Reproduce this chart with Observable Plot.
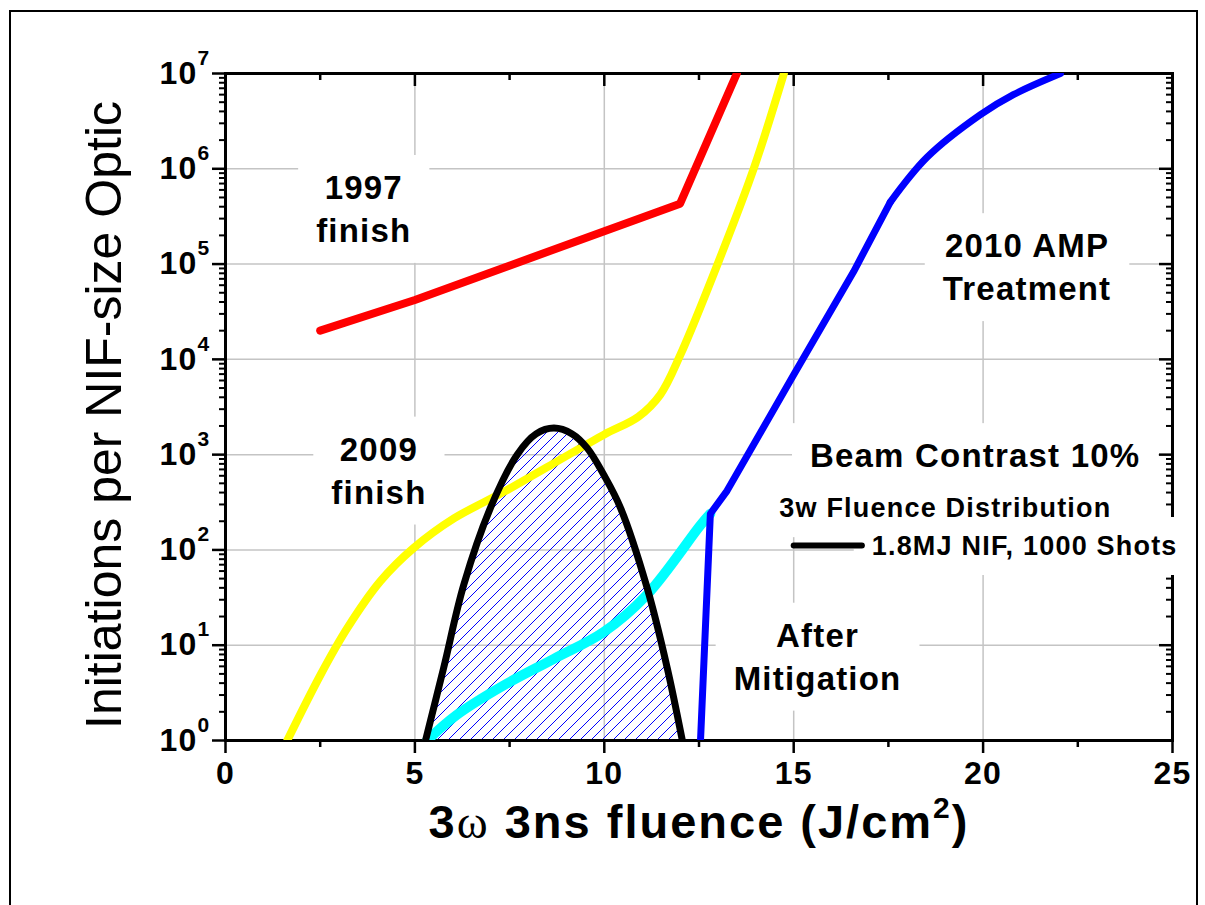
<!DOCTYPE html>
<html><head><meta charset="utf-8">
<script src="https://cdn.jsdelivr.net/npm/d3@7"></script>
<script src="https://cdn.jsdelivr.net/npm/@observablehq/plot@0.6"></script>
<style>
body{margin:0;background:#fff;}
#wrap{position:relative;width:1205px;height:905px;overflow:hidden;background:#fff;}
#border{position:absolute;left:9px;top:10px;width:1189px;height:1000px;border:2px solid #000;box-sizing:border-box;pointer-events:none;}
svg text{letter-spacing:1.2px;}
</style></head><body><div id="wrap"><div id="border"></div></div>
<script>
// ---- axis ticks ----
const xTicks = [0, 5, 10, 15, 20, 25];
const xMinor = [2.5, 7.5, 12.5, 17.5, 22.5];
const xGrid = [5, 10, 15, 20];
const yDecades = [1, 10, 100, 1e3, 1e4, 1e5, 1e6, 1e7];
const yGrid = [10, 100, 1e3, 1e4, 1e5, 1e6];
const yMinorMult = [2, 3, 4, 5, 6, 7, 8, 9];
const yMinor = yDecades.slice(0, -1).flatMap(d => yMinorMult.map(m => m * d));

// ---- series ----
const red1997X = [2.5, 5.0, 12.0, 13.5];
const red1997Y = [2.0e4, 4.2e4, 4.3e5, 1e7];

const yel2009X = [1.63, 2.51, 3.21, 4.09, 4.97, 6.03, 7.35, 8.67, 9.99, 10.9, 11.48, 12.01, 13.02, 13.95, 14.74];
const yel2009Y = [1, 4.9, 15, 47, 105, 214, 407, 813, 1620, 2500, 4270, 11200, 107000, 1.02e6, 1e7];

const cyanX = [5.32, 6.11, 7.35, 8.67, 9.99, 11.13, 12.54, 12.8];
const cyanY = [1, 1.86, 3.8, 7.2, 13.8, 34, 182, 240];

const blueLowX = [12.54, 12.8, 13.24, 15.0, 16.58, 17.55];
const blueLowY = [1, 240, 417, 6900, 83000, 447000];
const blueHighX = [17.55, 18.52, 19.93, 20.8, 22.04];
const blueHighY = [447000, 1.32e6, 3.7e6, 6.0e6, 1e7];

const distX = [5.28, 5.76, 6.29, 7.0, 7.7, 8.2, 8.67, 9.15, 9.55, 10.0, 10.43, 11.13, 11.66, 12.06];
const distY = [1, 5.8, 43, 280, 1000, 1650, 1900, 1650, 1170, 600, 275, 40, 5.8, 1];

// ---- annotations ----
const noteText = ["1997\nfinish", "2009\nfinish", "2010 AMP\nTreatment", "Beam Contrast 10%", "After\nMitigation"];
const noteX = [3.65, 4.05, 21.16, 19.79, 15.63];
const noteY = [4.0e5, 718, 9.8e4, 1030, 8.0];
const legendText = ["3w Fluence Distribution", "1.8MJ NIF, 1000 Shots"];
const legendX = [14.62, 17.06];
const legendY = [272, 109];
const swatchX = [15.0, 16.8];
const swatchY = [111, 111];
const xTitle = "3ω 3ns fluence (J/cm2)";
const yTitle = "Initiations per NIF-size Optic";

const rows = (xs, ys) => xs.map((x, i) => ({x, y: ys[i]}));
const red = rows(red1997X, red1997Y);
const yel = rows(yel2009X, yel2009Y);
const cyan = rows(cyanX, cyanY);
const blueLow = rows(blueLowX, blueLowY);
const blueHigh = rows(blueHighX, blueHighY);
const dist = rows(distX, distY);
const notes = noteText.map((t, i) => ({text: t, x: noteX[i], y: noteY[i]}));
const legend = legendText.map((t, i) => ({text: t, x: legendX[i], y: legendY[i]}));
const swatch = rows(swatchX, swatchY);

const W = 1205, H = 905, mL = 225, mR = 33, mT = 73, mB = 165;
const innerW = W - mL - mR, innerH = H - mT - mB;
const grid = {stroke: "#c4c4c4", strokeOpacity: 1, strokeWidth: 1.5};

const plot = Plot.plot({
  width: W, height: H,
  marginLeft: mL, marginRight: mR, marginTop: mT, marginBottom: mB,
  style: {fontFamily: "'Liberation Sans', Arial, sans-serif", fontWeight: "bold", background: "white", overflow: "visible", color: "black"},
  x: {domain: [0, 25], label: null},
  y: {type: "log", domain: [1, 1e7], label: null},
  marks: [
    Plot.gridX(xGrid, grid),
    Plot.gridY(yGrid, grid),
    Plot.areaY(dist, {x: "x", y1: 1, y2: "y", fill: "url(#hatch)", curve: "catmull-rom", clip: true}),
    // inward ticks top & right
    Plot.tickX(xTicks, {x: d => d, insetBottom: innerH - 13, stroke: "black", strokeWidth: 2.5}),
    Plot.tickX(xMinor, {x: d => d, insetBottom: innerH - 7, stroke: "black", strokeWidth: 2.5}),
    Plot.tickY(yDecades, {y: d => d, insetLeft: innerW - 13, stroke: "black", strokeWidth: 2.5}),
    Plot.tickY(yMinor, {y: d => d, insetLeft: innerW - 6, stroke: "black", strokeWidth: 2}),
    // outward ticks bottom & left
    Plot.axisX(xTicks, {anchor: "bottom", label: null, tickSize: 13, tickPadding: 8, strokeWidth: 2.5, fontSize: 32, fontWeight: "bold", tickFormat: d => String(d)}),
    Plot.axisX(xMinor, {anchor: "bottom", label: null, tickSize: 7, strokeWidth: 2.5, tickFormat: () => ""}),
    Plot.axisY(yDecades, {anchor: "left", label: null, tickSize: 13, tickPadding: 2, strokeWidth: 2.5, fontSize: 32, fontWeight: "bold", tickFormat: d => "10^" + Math.round(Math.log10(d))}),
    Plot.axisY(yMinor, {anchor: "left", label: null, tickSize: 6, strokeWidth: 2, tickFormat: () => ""}),
    Plot.frame({stroke: "black", strokeWidth: 3}),
    Plot.text(notes, {x: "x", y: "y", text: "text", fontSize: 33, lineHeight: 1.3, textAnchor: "middle", lineAnchor: "middle", fill: "black"}),
    Plot.text(legend, {x: "x", y: "y", text: "text", fontSize: 27, textAnchor: "start", lineAnchor: "middle", fill: "black"}),
    // curves above label boxes
    Plot.line(red, {x: "x", y: "y", stroke: "#ff0000", strokeWidth: 8, clip: true}),
    Plot.line(yel, {x: "x", y: "y", stroke: "#ffff00", strokeWidth: 8, curve: "catmull-rom", clip: true}),
    Plot.line(cyan, {x: "x", y: "y", stroke: "#00ffff", strokeWidth: 10, curve: "catmull-rom", clip: true}),
    Plot.line(blueLow, {x: "x", y: "y", stroke: "#0000ff", strokeWidth: 7, clip: true}),
    Plot.line(blueHigh, {x: "x", y: "y", stroke: "#0000ff", strokeWidth: 7, curve: "catmull-rom", clip: true}),
    Plot.line(dist, {x: "x", y: "y", stroke: "black", strokeWidth: 7, curve: "catmull-rom", clip: true}),
    Plot.line(swatch, {x: "x", y: "y", stroke: "black", strokeWidth: 6}),
    Plot.text([xTitle], {text: d => d, frameAnchor: "bottom", dy: 82, fontSize: 47, lineAnchor: "middle", textAnchor: "middle", fill: "black"}),
    Plot.text([yTitle], {text: d => d, frameAnchor: "left", dx: -121, dy: 8, rotate: -90, fontSize: 50, fontWeight: "normal", lineAnchor: "middle", textAnchor: "middle", fill: "black"})
  ]
});

const wrap = document.getElementById("wrap");
wrap.insertBefore(plot, wrap.firstChild);
const svg = d3.select(plot);

// hatch pattern
const defs = svg.insert("defs", ":first-child");
defs.append("pattern").attr("id", "hatch").attr("patternUnits", "userSpaceOnUse")
  .attr("width", 11).attr("height", 11)
  .append("path").attr("d", "M-2,2 L2,-2 M0,11 L11,0 M9,13 L13,9")
  .attr("stroke", "#0000ff").attr("stroke-width", 1).attr("fill", "none");

// superscripts & special glyphs
const boxTexts = new Set([...noteText, ...legendText].map(t => t.replace(/\n/g, "")));
const boxTargets = [];
svg.selectAll("text").each(function () {
  const t = this.textContent;
  const m = /^10\^(\d)$/.exec(t);
  const s = d3.select(this);
  if (m) {
    s.text("10");
    s.append("tspan").attr("dy", -19).attr("font-size", 21).text(m[1]);
  } else if (t === xTitle) {
    s.text(null).style("letter-spacing", "2px");
    s.append("tspan").text("3");
    s.append("tspan").attr("font-family", "'Liberation Serif', 'DejaVu Serif', serif").attr("font-weight", "normal").text("ω");
    s.append("tspan").text(" 3ns fluence (J/cm");
    s.append("tspan").attr("dy", -20).attr("font-size", 30).text("2");
    s.append("tspan").attr("dy", 20).text(")");
  } else if (t === yTitle) {
    s.style("letter-spacing", "0px");
  } else if (boxTexts.has(t)) {
    boxTargets.push(this);
  }
});
// white label boxes behind annotation texts
const firstTextGroup = boxTargets.length ? boxTargets[0].parentNode : null;
boxTargets.forEach(el => {
  const b = el.getBBox();
  const g = el.parentNode;
  const bg = document.createElementNS("http://www.w3.org/2000/svg", "g");
  if (g.getAttribute("transform")) bg.setAttribute("transform", g.getAttribute("transform"));
  firstTextGroup.parentNode.insertBefore(bg, firstTextGroup);
  const padX = 18, padY = 14;
  d3.select(bg).append("rect")
    .attr("transform", el.getAttribute("transform"))
    .attr("x", b.x - padX).attr("y", b.y - padY)
    .attr("width", b.width + 2 * padX).attr("height", b.height + 2 * padY)
    .attr("fill", "white").attr("stroke", "none");
});
</script></body></html>
